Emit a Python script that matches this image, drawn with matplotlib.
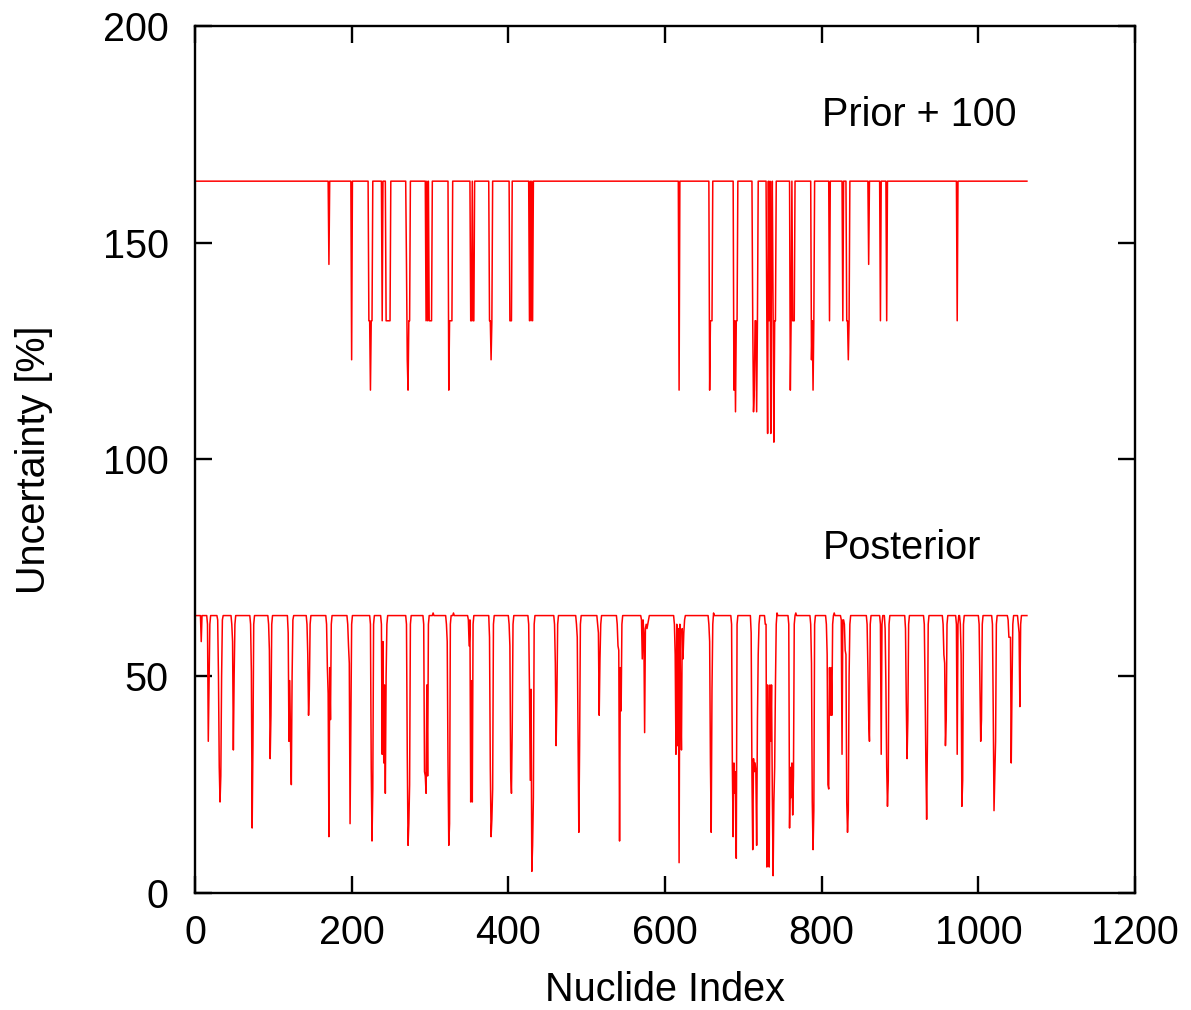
import numpy as np
from matplotlib import pyplot as plt

# nuclide index range
nNuclides = 1062

# prior (+100): flat level with dips at a few nuclides
priorBase = 164.2
priorDipIdx = [171, 200, 222, 223, 224, 225, 226, 239, 244, 245, 246, 247, 248, 249,
               270, 271, 272, 273, 274, 295, 297, 299, 300, 301, 302,
               324, 325, 326, 327, 328, 352, 353, 355, 356, 376, 377, 378, 379,
               402, 403, 404, 427, 429, 431, 618, 657, 658, 659, 660,
               688, 689, 690, 691, 692, 712, 713, 714, 715, 716, 717, 718,
               730, 731, 733, 735, 736, 738, 739, 740, 741,
               760, 761, 763, 764, 765, 787, 788, 789, 790, 810, 827,
               832, 833, 834, 835, 860, 875, 883, 973]
priorDipVal = [145, 123, 132, 132, 116, 132, 132, 132, 132, 132, 132, 132, 132, 132,
               145, 123, 116, 132, 132, 132, 132, 132, 132, 132, 132,
               116, 132, 132, 132, 132, 132, 132, 132, 132, 132, 132, 123, 132,
               132, 132, 132, 132, 132, 132, 116, 116, 132, 132, 132,
               116, 132, 111, 132, 132, 132, 111, 116, 132, 132, 111, 132,
               132, 106, 132, 106, 145, 132, 104, 132, 132,
               116, 132, 132, 132, 132, 123, 132, 116, 132, 132, 132,
               132, 132, 123, 132, 145, 132, 132, 132]

# posterior: flat level with dips (start index, values)
postBase = 64.0
postDipStart = [8, 16, 29, 47, 71, 94, 119, 143, 168, 195, 224, 238, 270, 292, 321,
                349, 376, 401, 426, 459, 487, 514, 539, 570, 612, 656, 685, 710,
                728, 758, 786, 806, 825, 858, 875, 881, 907, 931, 955, 972, 977,
                1001, 1018, 1038, 1051]
postDipVals = [
    [58],
    [62, 35, 48, 62],
    [63, 50, 29, 21, 27, 50, 63],
    [62, 58, 33, 50, 62],
    [62, 51, 15, 34, 62],
    [62, 56, 31, 41, 62],
    [60, 35, 49, 35, 25, 50, 63],
    [62, 55, 41, 47, 62],
    [62, 52, 46, 13, 52, 40, 62],
    [62, 57, 53, 16, 40, 62],
    [62, 29, 12, 24, 62],
    [62, 32, 58, 30, 48, 23, 50, 62],
    [62, 32, 11, 16, 25, 62],
    [62, 28, 27, 23, 48, 27, 62],
    [62, 58, 30, 11, 16, 62],
    [63, 57, 63, 21, 49, 21, 62],
    [59, 29, 13, 17, 24, 62],
    [62, 57, 28, 23, 38, 62],
    [62, 47, 26, 47, 5, 11, 22, 62],
    [62, 53, 34, 45, 62],
    [62, 59, 37, 14, 34, 62],
    [62, 60, 41, 54, 62],
    [62, 57, 56, 12, 52, 42, 62],
    [63, 54, 63, 60, 37, 61, 62, 61, 62, 63],
    [62, 55, 32, 62, 34, 61, 7, 62, 45, 33, 61, 54, 60, 63],
    [62, 58, 30, 14, 47, 62],
    [62, 29, 13, 30, 23, 28, 8, 62],
    [60, 27, 10, 31, 28, 30, 28, 11, 40, 55, 62],
    [62, 62, 6, 48, 35, 6, 48, 35, 48, 23, 4, 21, 29, 48, 62],
    [62, 15, 29, 22, 30, 18, 27, 62],
    [62, 53, 21, 10, 19, 62],
    [62, 55, 25, 24, 52, 41, 52, 41, 62],
    [63, 32, 63, 63, 62, 56, 55, 21, 14, 19, 50, 62],
    [62, 52, 40, 35, 62],
    [62, 32, 62],
    [61, 48, 29, 20, 26, 62],
    [61, 44, 31, 40, 62],
    [62, 48, 30, 17, 35, 62],
    [62, 55, 53, 34, 40, 62],
    [62, 32, 62],
    [62, 55, 20, 26, 62],
    [62, 49, 35, 40, 62],
    [62, 42, 19, 27, 35, 62],
    [63, 59, 59, 59, 30, 48, 62],
    [62, 60, 43, 62],
]
postBumpIdx = [304, 330, 662, 720, 743, 767, 816]
postBumpVal = 64.6

xTicks = [0, 200, 400, 600, 800, 1000, 1200]
yTicks = [0, 50, 100, 150, 200]

# assemble series
idx = np.arange(1, nNuclides + 1)
prior = np.full(nNuclides, priorBase)
prior[np.array(priorDipIdx) - 1] = priorDipVal
post = np.full(nNuclides, postBase)
post[np.array(postBumpIdx) - 1] = postBumpVal
for s, vals in zip(postDipStart, postDipVals):
    post[s - 1:s - 1 + len(vals)] = vals

plt.rcParams['font.family'] = ['Liberation Sans', 'DejaVu Sans']
fs = 28.5

fig = plt.figure(figsize=(11.91, 10.10), dpi=100)
ax = fig.add_axes([0.1637, 0.1158, 0.7893, 0.8585])

ax.plot(idx, prior, color='red', lw=1.1)
ax.plot(idx, post, color='red', lw=1.1)

ax.text(801, 177, 'Prior + 100', fontsize=fs, va='baseline')
ax.text(801, 77, 'Posterior', fontsize=fs, va='baseline')

ax.set_xlim(0, 1200)
ax.set_ylim(0, 200)
ax.set_xticks(xTicks)
ax.set_yticks(yTicks)
ax.tick_params(direction='in', length=12, width=1.7, labelsize=fs,
               top=True, right=True)
ax.tick_params(axis='x', pad=15)
ax.tick_params(axis='y', pad=19)
for sp in ax.spines.values():
    sp.set_linewidth(1.7)

ax.set_xlabel('Nuclide Index', fontsize=fs, labelpad=14)
ax.set_ylabel('Uncertainty [%]', fontsize=fs, labelpad=36)

fig.savefig('out.png', dpi=100)
